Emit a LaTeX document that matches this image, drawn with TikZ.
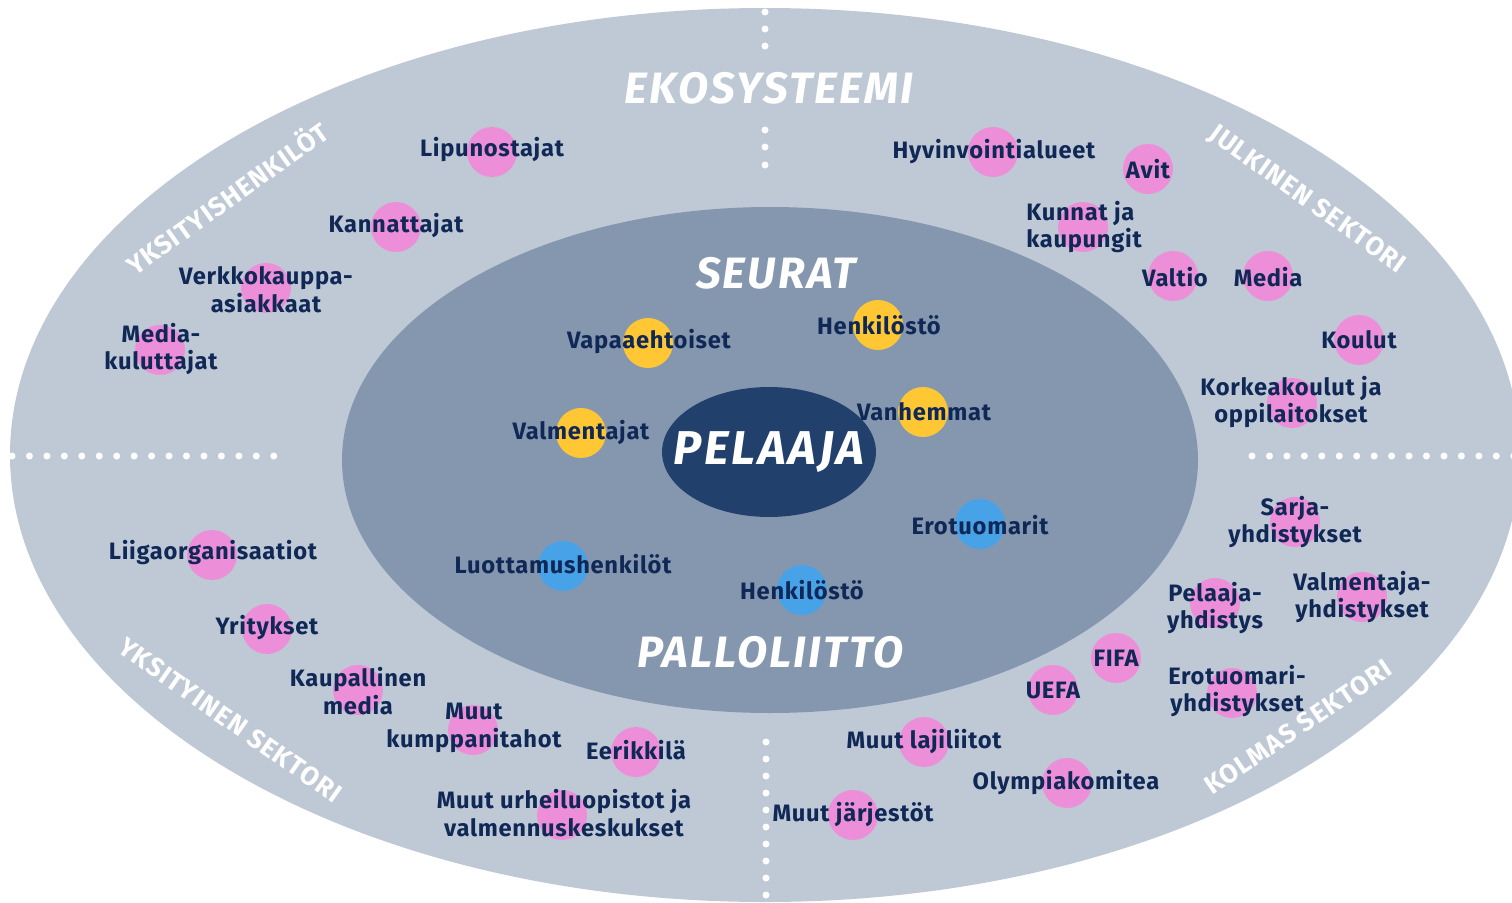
\documentclass[tikz,border=0pt]{standalone}
\usepackage{fontspec}
\setmainfont{Fira Sans}
\usepackage{tikz}
\usetikzlibrary{shapes.geometric}

\definecolor{outerc}{RGB}{191,201,214}
\definecolor{innerc}{RGB}{133,151,175}
\definecolor{corec}{RGB}{33,64,107}
\definecolor{navy}{RGB}{16,40,86}
\definecolor{pinkc}{RGB}{237,143,216}
\definecolor{yellowc}{RGB}{255,199,51}
\definecolor{bluec}{RGB}{72,162,232}

\tikzset{
  pinkdot/.style={circle, fill=pinkc, minimum size=1cm, inner sep=0pt},
  yellowdot/.style={circle, fill=yellowc, minimum size=1cm, inner sep=0pt},
  bluedot/.style={circle, fill=bluec, minimum size=1cm, inner sep=0pt},
  item/.style={font={\bfseries\addfontfeatures{LetterSpace=3}\fontsize{13.5}{15.8}\selectfont}, text=navy, align=center, inner sep=0pt},
  sector/.style={font={\bfseries\addfontfeatures{LetterSpace=4}\fontsize{15}{17}\selectfont}, text=white, inner sep=0pt},
  title/.style={font={\bfseries\itshape\addfontfeatures{LetterSpace=5}\fontsize{25}{28}\selectfont}, text=white, inner sep=0pt},
}

\begin{document}
\begin{tikzpicture}[x=0.02cm, y=-0.02cm]
    \useasboundingbox (0,0) rectangle (1512,903);
    % Rings
    \fill[outerc] (765,455) ellipse [x radius=755, y radius=447];
    % Dotted dividers
    \begin{scope}
      \clip (765,455) ellipse [x radius=755, y radius=447];
      \foreach \i in {0,...,15}
        \fill[white] (12+17.45*\i,456) circle (3.5);
      \foreach \i in {0,...,15}
        \fill[white] (1252+17.45*\i,456) circle (3.5);
      \foreach \y in {12,29,46,130,147,165}
        \fill[white] (765,\y) circle (3.5);
      \foreach \i in {0,...,9}
        \fill[white] (766,742+17*\i) circle (3.5);
    \end{scope}
    \fill[innerc] (770,460) ellipse [x radius=428, y radius=253];
    \node[ellipse, fill=corec, minimum width=4.28cm, minimum height=2.6cm, inner sep=0pt] (pelaaja) at (769,452) {};

    % Titles
    \node[title] (ekosysteemi) at (769,88) {EKOSYSTEEMI};
    \node[title] (seurat) at (776,273) {SEURAT};
    \node[title, font={\bfseries\itshape\addfontfeatures{LetterSpace=6}\fontsize{27}{30}\selectfont}] (pelaaja-t) at (pelaaja) {PELAAJA};
    \node[title] (palloliitto) at (770,652) {PALLOLIITTO};

    % Sectors
    \node[sector, rotate=35.5] (yksityishenkilot) at (226,197) {YKSITYISHENKILÖT};
    \node[sector, rotate=-35.5] (julkinen) at (1307,200) {JULKINEN SEKTORI};
    \node[sector, rotate=-35] (yksityinen) at (230,720) {YKSITYINEN SEKTORI};
    \node[sector, rotate=34] (kolmas) at (1298,727) {KOLMAS SEKTORI};

    % Pink: ecosystem
    \node[pinkdot] (lipu) at (492,152) {};
    \node[pinkdot] (kann) at (396,227) {};
    \node[pinkdot] (verkko) at (266,288) {};
    \node[pinkdot] (mediakul) at (160,350) {};
    \node[pinkdot] (hyvin) at (993,152) {};
    \node[pinkdot] (avit) at (1148,169) {};
    \node[pinkdot] (kunnat) at (1083,227) {};
    \node[pinkdot] (valtio) at (1173,276) {};
    \node[pinkdot] (media) at (1268,276) {};
    \node[pinkdot] (koulut) at (1359,340) {};
    \node[pinkdot] (korkea) at (1292,403) {};
    \node[pinkdot] (sarja) at (1295,522) {};
    \node[pinkdot] (pelyhd) at (1215,603) {};
    \node[pinkdot] (valyhd) at (1362,597) {};
    \node[pinkdot] (fifa) at (1116,658) {};
    \node[pinkdot] (uefa) at (1053,690) {};
    \node[pinkdot] (erotyhd) at (1232,693) {};
    \node[pinkdot] (olymp) at (1067,783) {};
    \node[pinkdot] (lajil) at (924,742) {};
    \node[pinkdot] (jarj) at (853,815) {};
    \node[pinkdot] (liiga) at (212,555) {};
    \node[pinkdot] (yrit) at (267,629) {};
    \node[pinkdot] (kaup) at (358,690) {};
    \node[pinkdot] (kump) at (473,730) {};
    \node[pinkdot] (eerik) at (636,752) {};
    \node[pinkdot] (opist) at (562,815) {};

    % Yellow: clubs
    \node[yellowdot] (vapaa) at (648,343) {};
    \node[yellowdot] (henk) at (878,325) {};
    \node[yellowdot] (valm) at (581,433) {};
    \node[yellowdot] (vanh) at (923,412) {};

    % Blue: association
    \node[bluedot] (erot) at (980,524) {};
    \node[bluedot] (luott) at (563,566) {};
    \node[bluedot] (henk2) at (802,590) {};

    % Labels
    \node[item] (lipu-t) at (492,150) {Lipunostajat};
    \node[item] (kann-t) at (396,225) {Kannattajat};
    \node[item] (verkko-t) at (266,290) {Verkkokauppa-\\asiakkaat};
    \node[item] (mediakul-t) at (161,349) {Media-\\kuluttajat};
    \node[item] (hyvin-t) at (994,152) {Hyvinvointialueet};
    \node[item] (avit-t) at (1148,169) {Avit};
    \node[item, anchor=west, align=left] (kunnat-t) at (1026,227) {Kunnat ja\\kaupungit};
    \node[item] (valtio-t) at (1175,277) {Valtio};
    \node[item] (media-t) at (1268,277) {Media};
    \node[item] (koulut-t) at (1359,340) {Koulut};
    \node[item] (korkea-t) at (1291,402) {Korkeakoulut ja\\oppilaitokset};
    \node[item] (sarja-t) at (1295,522) {Sarja-\\yhdistykset};
    \node[item] (pelyhd-t) at (1215,608) {Pelaaja-\\yhdistys};
    \node[item] (valyhd-t) at (1362,597) {Valmentaja-\\yhdistykset};
    \node[item] (fifa-t) at (1116,658) {FIFA};
    \node[item] (uefa-t) at (1053,690) {UEFA};
    \node[item] (erotyhd-t) at (1237,691) {Erotuomari-\\yhdistykset};
    \node[item] (olymp-t) at (1066,783) {Olympiakomitea};
    \node[item] (lajil-t) at (924,741) {Muut lajiliitot};
    \node[item] (jarj-t) at (853,814) {Muut järjestöt};
    \node[item] (liiga-t) at (213,553) {Liigaorganisaatiot};
    \node[item] (yrit-t) at (267,628) {Yritykset};
    \node[item] (kaup-t) at (358,691) {Kaupallinen\\media};
    \node[item] (kump-t) at (474,728) {Muut\\kumppanitahot};
    \node[item] (eerik-t) at (636,750) {Eerikkilä};
    \node[item] (opist-t) at (564,813) {Muut urheiluopistot ja\\valmennuskeskukset};
    \node[item] (vapaa-t) at (649,342) {Vapaaehtoiset};
    \node[item] (henk-t) at (879,325) {Henkilöstö};
    \node[item] (valm-t) at (581,432) {Valmentajat};
    \node[item] (vanh-t) at (924,412) {Vanhemmat};
    \node[item] (erot-t) at (980,525) {Erotuomarit};
    \node[item] (luott-t) at (563,564) {Luottamushenkilöt};
    \node[item] (henk2-t) at (802,590) {Henkilöstö};
\end{tikzpicture}
\end{document}
